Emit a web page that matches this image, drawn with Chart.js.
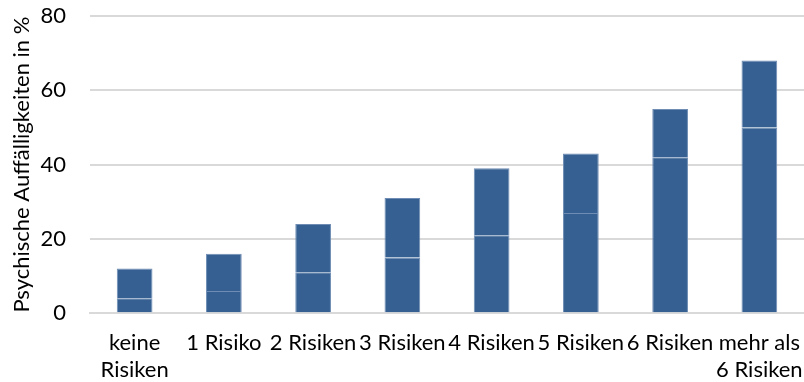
<!DOCTYPE html>
<html>
<head>
<meta charset="utf-8">
<script src="https://cdn.jsdelivr.net/npm/chart.js@4"></script>
<style>
  html, body { margin: 0; padding: 0; background: #fff; }
  #wrap { width: 804px; height: 382px; position: relative; }
</style>
</head>
<body>
<div id="wrap"><canvas id="riskChart"></canvas></div>
<script>
// Risikogruppen und Anteil psychischer Auffälligkeiten (%)
const categories = [['keine', 'Risiken'], '1 Risiko', '2 Risiken', '3 Risiken', '4 Risiken', '5 Risiken', '6 Risiken', ['mehr als', '6 Risiken']];
const baseValues = [4, 6, 11, 15, 21, 27, 42, 50];
const totalValues = [12, 16, 24, 31, 39, 43, 55, 68];
const yTicks = [0, 20, 40, 60, 80];

const barColor = '#356091';
const segBorder = '#6f8db4';
const upperValues = totalValues.map((t, i) => t - baseValues[i]);
const labelFont = { family: 'Lato', size: 22, lineHeight: 1.2 };

const ctx = document.getElementById('riskChart').getContext('2d');
const chart = new Chart(ctx, {
  type: 'bar',
  data: {
    labels: categories,
    datasets: [
      { data: baseValues, backgroundColor: barColor, borderColor: segBorder, borderWidth: 1, barPercentage: 0.4, categoryPercentage: 1 },
      { data: upperValues, backgroundColor: barColor, borderColor: segBorder, borderWidth: 1, barPercentage: 0.4, categoryPercentage: 1 }
    ]
  },
  options: {
    responsive: true,
    maintainAspectRatio: false,
    animation: false,
    layout: { padding: { top: 16, right: 0, left: 8, bottom: -18 }, autoPadding: false },
    plugins: { legend: { display: false }, tooltip: { enabled: false } },
    scales: {
      x: {
        stacked: true,
        afterFit: s => { s.paddingLeft = 0; s.paddingRight = 0; },
        grid: { display: false, drawTicks: false },
        border: { color: '#d9d9d9', width: 2 },
        ticks: { color: '#000', font: labelFont, padding: 17, maxRotation: 0, autoSkip: false }
      },
      y: {
        stacked: true,
        min: 0,
        max: 80,
        afterBuildTicks: s => { s.ticks = yTicks.map(v => ({ value: v })); },
        // fixed axis width, no extra room above/below the plot for the tick labels
        afterFit: s => { s.width = 82; s.paddingTop = 0; s.paddingBottom = 0; },
        grid: { color: '#d9d9d9', lineWidth: 2, drawTicks: false },
        border: { display: false },
        ticks: { color: '#000', font: labelFont, padding: 24 },
        title: { display: true, text: 'Psychische Auffälligkeiten in %', color: '#000', font: labelFont, padding: { top: 1, bottom: 10 } }
      }
    }
  }
});
</script>
</body>
</html>
